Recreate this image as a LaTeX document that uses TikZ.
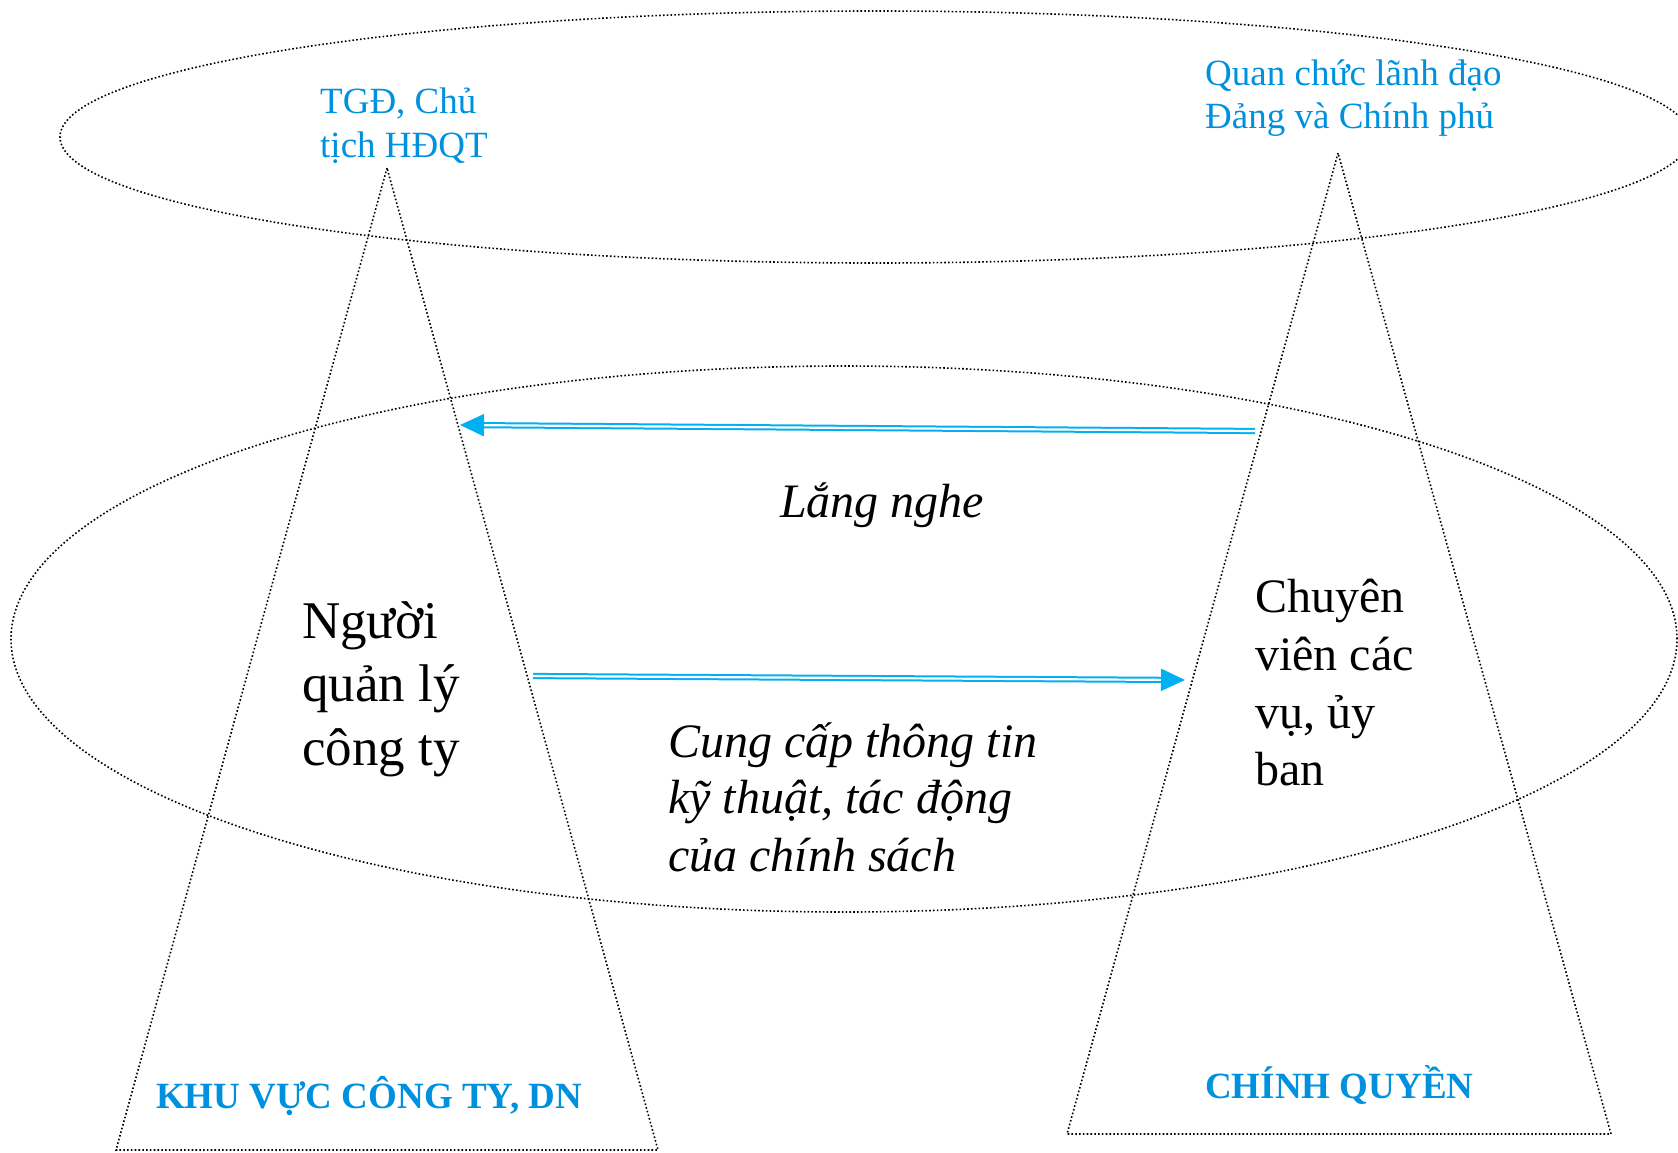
\documentclass[tikz,border=0pt]{standalone}
\usepackage{fontspec}
\setmainfont{Liberation Serif}
\usetikzlibrary{arrows.meta}
\definecolor{txtblue}{RGB}{0,145,222}
\definecolor{arrblue}{RGB}{0,176,240}
\tikzset{
  dots/.style={line width=1.6pt, dash pattern=on 1.6pt off 2.2pt, black},
  dblarrow/.style={arrblue, line width=2pt, double=white, double distance=2.2pt,
     -{Triangle[length=24pt,width=22pt]}},
  bluelab/.style={txtblue, anchor=base west, inner sep=0pt, font=\fontsize{37}{44}\selectfont},
  bluebold/.style={txtblue, anchor=base west, inner sep=0pt, font=\fontsize{37}{44}\selectfont\bfseries},
  biglab/.style={black, anchor=base west, inner sep=0pt, font=\fontsize{53}{64}\selectfont},
  midlab/.style={black, anchor=base west, inner sep=0pt, font=\fontsize{48}{57}\selectfont},
  itlab/.style={black, anchor=base west, inner sep=0pt, font=\fontsize{48}{57}\selectfont\itshape}
}
\begin{document}
\begin{tikzpicture}[x=1pt,y=-1pt]
\useasboundingbox (0,0) rectangle (1678,1152);
% ellipses
\draw[dots] (875,137) ellipse [x radius=815pt, y radius=126pt];
\draw[dots] (844,639) ellipse [x radius=833pt, y radius=273pt];
% triangles
\coordinate (lA) at (387,168);
\coordinate (lB) at (116,1150);
\coordinate (lC) at (658,1150);
\coordinate (rA) at (1338,153);
\coordinate (rB) at (1067,1134);
\coordinate (rC) at (1611,1134);
\draw[dots] (lA) -- (lB) -- (lC) -- cycle;
\draw[dots] (rA) -- (rB) -- (rC) -- cycle;
% arrows
\coordinate (a1s) at (1255,431);
\coordinate (a1t) at (460,425);
\coordinate (a2s) at (533,676);
\coordinate (a2t) at (1185,680);
\draw[dblarrow] (a1s) -- (a1t);
\draw[dblarrow] (a2s) -- (a2t);
% blue labels
\node[bluelab] (tgd1) at (320,113) {TGĐ, Chủ};
\node[bluelab] (tgd2) at (320,157) {tịch HĐQT};
\node[bluelab] (qc1) at (1205,85) {Quan chức lãnh đạo};
\node[bluelab] (qc2) at (1205,128) {Đảng và Chính phủ};
\node[bluebold] (khu) at (156,1108) {KHU VỰC CÔNG TY, DN};
\node[bluebold] (cq) at (1205,1098) {CHÍNH QUYỀN};
% black labels
\node[biglab] (ng1) at (302,638) {Người};
\node[biglab] (ng2) at (302,701) {quản lý};
\node[biglab] (ng3) at (302,765) {công ty};
\node[midlab] (cv1) at (1255,612) {Chuyên};
\node[midlab] (cv2) at (1255,670) {viên các};
\node[midlab] (cv3) at (1255,728) {vụ, ủy};
\node[midlab] (cv4) at (1255,785) {ban};
\node[itlab] (ln) at (780,517) {Lắng nghe};
\node[itlab] (cc1) at (668,757) {Cung cấp thông tin};
\node[itlab] (cc2) at (668,813) {kỹ thuật, tác động};
\node[itlab] (cc3) at (668,871) {của chính sách};
\end{tikzpicture}
\end{document}
